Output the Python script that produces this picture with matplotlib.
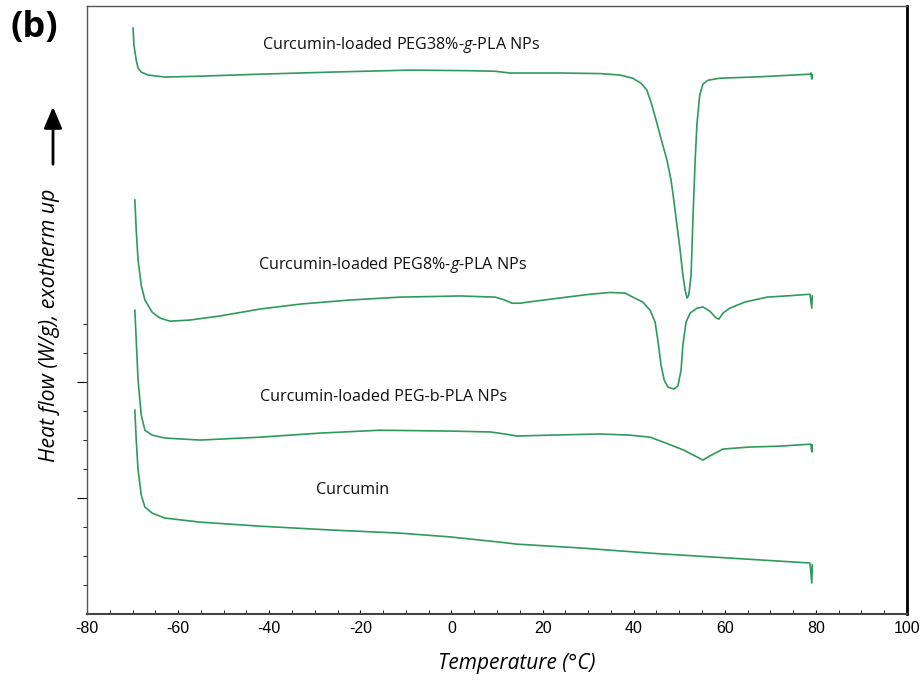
import matplotlib
matplotlib.use("Agg")
import matplotlib.pyplot as plt
from matplotlib.ticker import MultipleLocator, FixedLocator

plt.rcParams['font.family'] = ['Open Sans', 'DejaVu Sans']
plt.rcParams['mathtext.fontset'] = 'custom'
plt.rcParams['mathtext.it'] = 'Open Sans:italic'
plt.rcParams['mathtext.rm'] = 'Open Sans'
plt.rcParams['axes.unicode_minus'] = False

# DSC traces (temperature in C, heat flow in arbitrary offset units)
peg38_t = [-69.9, -69.7, -69.2, -68.8, -68.1, -66.6, -62.9, -55.2, -42.0, -26.7, -9.1, 4.1, 9.6,
           12.8, 23.8, 32.6, 37.0, 39.8, 41.6, 42.9, 44.0, 45.1, 46.2, 47.3, 48.2, 48.8, 49.5, 50.2,
           50.8, 51.3, 51.7, 52.1, 52.6, 53.0, 53.5, 53.9, 54.5, 55.2, 56.3, 58.9, 67.7, 78.7, 78.9,
           79.1, 79.2]
peg38_h = [20.21, 19.62, 19.10, 18.83, 18.69, 18.59, 18.52, 18.55, 18.62, 18.69, 18.76, 18.74, 18.72,
           18.66, 18.66, 18.64, 18.59, 18.48, 18.31, 18.07, 17.55, 16.93, 16.28, 15.66, 14.97, 14.28,
           13.41, 12.55, 11.69, 11.17, 10.90, 11.00, 11.69, 13.59, 15.66, 16.93, 17.90, 18.28, 18.41,
           18.48, 18.53, 18.62, 18.66, 18.45, 18.60]

peg8_t = [-69.5, -69.2, -68.8, -68.1, -67.3, -65.7, -64.0, -61.8, -57.4, -50.8, -42.0, -33.2, -22.3,
          -11.3, 1.9, 9.6, 11.7, 13.3, 15.0, 18.3, 23.8, 30.4, 34.8, 38.1, 39.8, 42.0, 43.6, 44.7,
          45.3, 46.0, 46.7, 47.5, 48.8, 49.7, 50.4, 50.8, 51.5, 52.4, 53.9, 55.2, 56.7, 58.1, 58.7,
          59.6, 61.1, 64.4, 69.3, 74.3, 78.7, 79.1, 79.2]
peg8_h = [14.28, 13.24, 12.21, 11.34, 10.83, 10.41, 10.21, 10.10, 10.14, 10.28, 10.52, 10.69, 10.83,
          10.93, 10.97, 10.93, 10.83, 10.72, 10.72, 10.79, 10.90, 11.03, 11.09, 11.07, 10.93, 10.76,
          10.48, 10.07, 9.45, 8.59, 8.07, 7.83, 7.76, 7.86, 8.41, 9.28, 10.07, 10.38, 10.55, 10.59,
          10.45, 10.21, 10.17, 10.38, 10.55, 10.76, 10.93, 10.98, 11.03, 10.55, 10.97]

pegb_t = [-69.5, -69.2, -68.8, -68.1, -67.3, -65.7, -62.9, -55.2, -42.0, -28.9, -15.7, -0.3, 8.5,
          11.7, 14.4, 21.6, 32.6, 39.2, 43.6, 47.0, 50.9, 53.5, 55.2, 56.7, 59.6, 65.5, 72.1, 78.9,
          79.1, 79.2]
pegb_h = [10.48, 9.45, 8.07, 6.86, 6.34, 6.17, 6.07, 6.00, 6.10, 6.24, 6.34, 6.31, 6.28,
          6.21, 6.14, 6.17, 6.21, 6.17, 6.10, 5.90, 5.66, 5.45, 5.31, 5.45, 5.69, 5.76, 5.79, 5.86,
          5.59, 5.83]

cur_t = [-69.5, -69.2, -68.8, -68.1, -67.3, -65.7, -62.9, -55.2, -42.0, -26.7, -11.3, -0.3, 10.6,
         14.4, 28.2, 43.6, 61.1, 78.7, 79.1, 79.2]
cur_h = [7.03, 6.00, 4.97, 4.10, 3.69, 3.48, 3.31, 3.17, 3.03, 2.90, 2.79, 2.66, 2.48,
         2.41, 2.28, 2.10, 1.93, 1.76, 1.07, 1.69]

labels = ["Curcumin-loaded PEG38%-$g$-PLA NPs",
          "Curcumin-loaded PEG8%-$g$-PLA NPs",
          "Curcumin-loaded PEG-b-PLA NPs",
          "Curcumin"]
label_x = [-41.6, -42.5, -42.0, -29.7]
label_y = [19.62, 12.03, 7.48, 4.28]

line_color = '#2e9a5c'

fig = plt.figure(figsize=(9.21, 6.85), dpi=100)
ax = fig.add_axes([0.0945, 0.1036, 0.8903, 0.8876])

for t, h in [(peg38_t, peg38_h), (peg8_t, peg8_h), (pegb_t, pegb_h), (cur_t, cur_h)]:
    ax.plot(t, h, color=line_color, lw=1.2)

for txt, lx, ly in zip(labels, label_x, label_y):
    ax.text(lx, ly, txt, fontsize=11.6, va='center', ha='left', color='#111111')

ax.set_xlim(-80, 100)
ax.set_ylim(0, 20.97)
ax.xaxis.set_major_locator(MultipleLocator(20))
ax.xaxis.set_minor_locator(MultipleLocator(5))
ax.yaxis.set_major_locator(FixedLocator([4, 8]))
ax.yaxis.set_minor_locator(FixedLocator([1, 2, 3, 5, 6, 7, 9, 10]))
ax.set_yticklabels([])
ax.tick_params(axis='x', which='both', direction='in', length=3, labelsize=11.5, pad=5)
ax.tick_params(axis='y', which='major', direction='out', length=7)
ax.tick_params(axis='y', which='minor', direction='out', length=3)
for lab in ax.get_xticklabels():
    lab.set_family('Liberation Sans')

ax.spines['left'].set_linewidth(1.0)
ax.spines['left'].set_color('#555555')
ax.spines['top'].set_linewidth(1.0)
ax.spines['top'].set_color('#555555')
ax.spines['right'].set_linewidth(2.0)
ax.spines['bottom'].set_linewidth(1.5)
ax.spines['bottom'].set_color('#444444')

fig.text(517 / 921, 1 - 664 / 685, "Temperature (°C)", fontsize=15, style='italic',
         ha='center', va='center')
fig.text(50 / 921, 1 - 325 / 685, "Heat flow (W/g), exotherm up", fontsize=15.3, style='italic',
         rotation=90, ha='center', va='center')
fig.text(10 / 921, 1 - 28 / 685, "(b)", fontsize=26, fontweight='bold', ha='left', va='center')

# "exotherm up" arrow
ax.annotate('', xy=(53 / 921, 1 - 104 / 685), xytext=(53 / 921, 1 - 167 / 685),
            xycoords='figure fraction', textcoords='figure fraction',
            arrowprops=dict(arrowstyle='-|>,head_length=1.3,head_width=0.55', color='black', lw=2))

fig.savefig("out.png", dpi=100)
